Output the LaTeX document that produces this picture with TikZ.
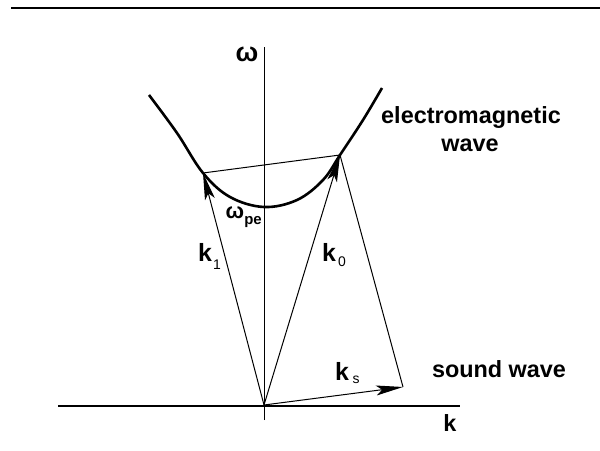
\documentclass[tikz,border=0pt]{standalone}
\usepackage{fontspec}
\setmainfont{Liberation Sans}
\usetikzlibrary{arrows.meta}
\begin{document}
\begin{tikzpicture}[x=1bp,y=-1bp,
  axis/.style={line width=1.8bp},
  vaxis/.style={line width=1bp},
  vec/.style={line width=1bp,-{Stealth[length=27bp,width=10bp,inset=6bp]}},
  thin line/.style={line width=1bp},
  curve/.style={line width=2.6bp},
  lbl/.style={inner sep=0pt,font=\fontsize{23.5}{26}\selectfont\bfseries},
  klbl/.style={inner sep=0pt,font=\fontsize{25}{27}\selectfont\bfseries},
  sub/.style={inner sep=0pt,font=\fontsize{14}{15}\selectfont}]
\useasboundingbox (0,0) rectangle (600,451);
\fill[white] (0,0) rectangle (600,451);
% top rule
\coordinate (rl) at (11,8);
\coordinate (rr) at (600,8);
\draw[line width=1.4bp] (rl) -- (rr);
% axes
\coordinate (O) at (264,405);
\coordinate (xl) at (58,406);
\coordinate (xr) at (460,406);
\coordinate (yt) at (264,47);
\coordinate (yb) at (264,420);
\draw[axis] (xl) -- (xr);
\draw[vaxis] (yb) -- (yt);
% dispersion curve
\draw[curve] plot[smooth,tension=0.6] coordinates {(149,95) (177,133) (203,173) (230,197) (264,207) (297,200) (323,180) (340,155) (363,120) (382,88)};
% vectors
\coordinate (K1) at (203,173);
\coordinate (K0) at (340,155);
\coordinate (KS) at (403,387);
\draw[vec] (O) -- (K1);
\draw[vec] (O) -- (K0);
\draw[vec] (O) -- (KS);
\draw[thin line] (K1) -- (K0);
\draw[thin line] (K0) -- (KS);
% labels
\node[lbl,font=\fontsize{27}{28}\selectfont\bfseries] (om) at (247,54) {ω};
\node[lbl,font=\fontsize{22}{23}\selectfont\bfseries] (ompe) at (235,213) {ω};
\node[sub,font=\fontsize{15}{16}\selectfont\bfseries] (pe) at (253,222) {pe};
\node[lbl] (em1) at (471,118) {electromagnetic};
\node[lbl] (em2) at (470,145) {wave};
\node[lbl] (sw) at (499,369) {sound wave};
\node[lbl] (kax) at (450,423) {k};
\node[klbl] (k1) at (205,252) {k};
\node[sub] (k1s) at (217,265) {1};
\node[klbl] (k0) at (329,252) {k};
\node[sub] (k0s) at (342,262) {0};
\node[klbl] (ks) at (342,371) {k};
\node[sub] (kss) at (356,380) {s};
\end{tikzpicture}
\end{document}
